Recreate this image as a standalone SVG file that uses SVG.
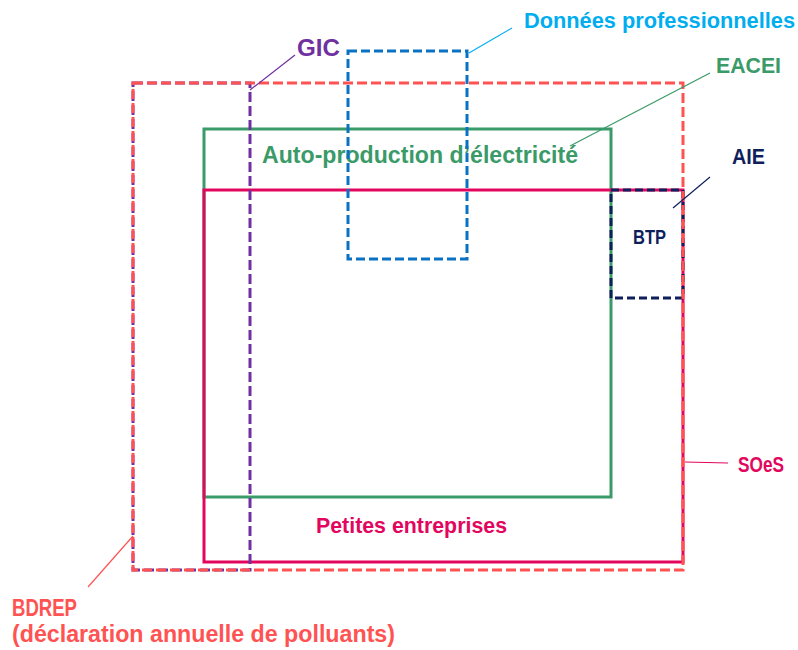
<svg xmlns="http://www.w3.org/2000/svg" width="798" height="650" viewBox="0 0 798 650">
<style>
text{font-family:"Liberation Sans",Arial,sans-serif;font-weight:bold;}
.box{fill:none;stroke-width:3;}
.lead{stroke-width:1.2;fill:none;}
</style>
<rect width="798" height="650" fill="#ffffff"/>
<g id="eacei">
<rect class="box" x="204" y="129" width="407" height="368" stroke="#3a9a68"/>
<text x="262" y="163" font-size="23" fill="#3a9a68" textLength="316" lengthAdjust="spacingAndGlyphs">Auto-production d’électricité</text>
<text x="716" y="73" font-size="22" fill="#3a9a68" textLength="65" lengthAdjust="spacingAndGlyphs">EACEI</text>
</g>
<g id="soes">
<rect class="box" x="204" y="190" width="479" height="372" stroke="#e2065e"/>
<text x="316" y="533" font-size="22" fill="#e2065e" textLength="191" lengthAdjust="spacingAndGlyphs">Petites entreprises</text>
<text x="738" y="472" font-size="22" fill="#e2065e" textLength="46" lengthAdjust="spacingAndGlyphs">SOeS</text>
</g>
<g id="aie">
<rect class="box" x="611" y="190" width="72" height="108" stroke="#0f1f5c" stroke-dasharray="8,4"/>
<text x="633" y="244" font-size="21" fill="#0f1f5c" textLength="33" lengthAdjust="spacingAndGlyphs">BTP</text>
<text x="732" y="164" font-size="22" fill="#0f1f5c" textLength="33" lengthAdjust="spacingAndGlyphs">AIE</text>
</g>
<g id="gic">
<rect class="box" x="133" y="83" width="117" height="487" stroke="#7030a0" stroke-dasharray="10,4"/>
<text x="297" y="56" font-size="23" fill="#7030a0" textLength="43" lengthAdjust="spacingAndGlyphs">GIC</text>
</g>
<g id="bdrep">
<rect class="box" x="133" y="83" width="550" height="487" stroke="#ff5252" stroke-dasharray="10,4"/>
<text x="12" y="616" font-size="23" fill="#ff5252" textLength="65" lengthAdjust="spacingAndGlyphs">BDREP</text>
<text x="12" y="642" font-size="23" fill="#ff5252" textLength="383" lengthAdjust="spacingAndGlyphs">(déclaration annuelle de polluants)</text>
</g>
<g id="donnees">
<rect class="box" x="348" y="51" width="119" height="208" stroke="#0a72c4" stroke-dasharray="9,4"/>
<text x="524" y="28" font-size="22" fill="#00aeef" textLength="271" lengthAdjust="spacingAndGlyphs">Données professionnelles</text>
</g>
<g id="connectors">
<line class="lead" x1="250" y1="90" x2="295" y2="55" stroke="#7030a0"/>
<line class="lead" x1="469" y1="53" x2="512" y2="28" stroke="#00aeef"/>
<line class="lead" x1="570" y1="146" x2="710" y2="73" stroke="#3a9a68"/>
<line class="lead" x1="673" y1="208" x2="710" y2="177" stroke="#0f1f5c"/>
<line class="lead" x1="685" y1="462" x2="728" y2="463" stroke="#e2065e"/>
<line class="lead" x1="133" y1="536" x2="88" y2="587" stroke="#ff5252"/>
</g>
</svg>
